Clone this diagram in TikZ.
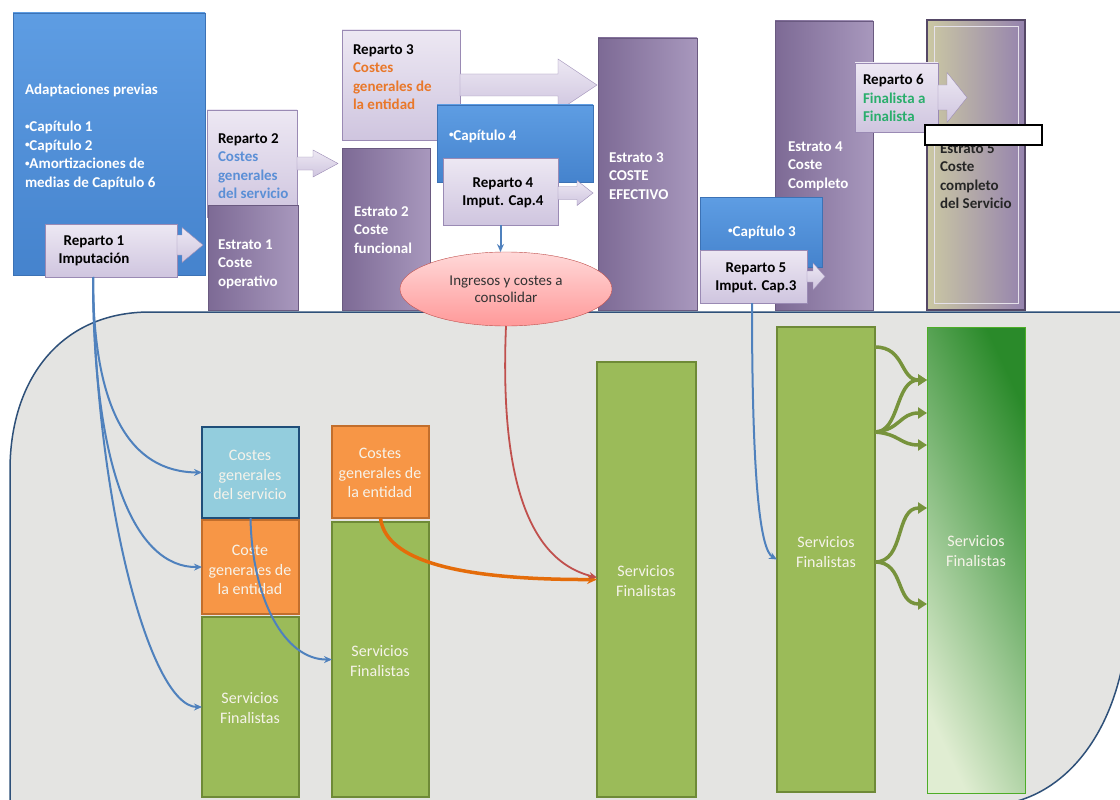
\documentclass[tikz,border=0pt]{standalone}
\usepackage{fontspec}
\setmainfont{Carlito}
\usetikzlibrary{arrows.meta,calc,positioning,shapes.geometric}

\definecolor{stratumL}{HTML}{7D6A95}
\definecolor{stratumR}{HTML}{A898BD}
\definecolor{stratumedge}{HTML}{6A5A80}
\definecolor{repT}{HTML}{EDE8F3}
\definecolor{repB}{HTML}{CFC5DF}
\definecolor{repedge}{HTML}{9A8AB4}
\definecolor{capT}{HTML}{5E9DE3}
\definecolor{capB}{HTML}{4583CD}
\definecolor{capedge}{HTML}{3C72B5}
\definecolor{servblue}{HTML}{5B8FD6}
\definecolor{entorange}{HTML}{E9782A}
\definecolor{finalgreen}{HTML}{2AAE6C}
\definecolor{panelgray}{HTML}{E4E4E2}
\definecolor{panelline}{HTML}{2E5079}
\definecolor{cablue}{HTML}{93CDDD}
\definecolor{caedge}{HTML}{1F4E79}
\definecolor{barorange}{HTML}{F79646}
\definecolor{orangeedge}{HTML}{C26E2C}
\definecolor{bargreen}{HTML}{9BBB59}
\definecolor{greenedge}{HTML}{6E8A37}
\definecolor{boxtext}{HTML}{F6F3EA}
\definecolor{linkblue}{HTML}{4F81BD}
\definecolor{linkorange}{HTML}{E46C0A}
\definecolor{linkred}{HTML}{C0504D}
\definecolor{fangreen}{HTML}{77933C}
\definecolor{olivegrey}{HTML}{CBC8A3}
\definecolor{palelilac}{HTML}{CDC3DB}
\definecolor{deeplilac}{HTML}{9583AE}
\definecolor{darkgreen}{HTML}{2A8A2A}
\definecolor{palegreen}{HTML}{E0EDD2}

% block arrow: start, length, shaft half, head half, head length
\newcommand{\blockarrow}[5]{%
  \draw[arrowbox] ($(#1)+(0,#3)$) -- ++(#2-#5,0) -- ++(0,#4-#3)
    -- ($(#1)+(#2,0)$) -- ($(#1)+(#2-#5,-#4)$) -- ++(0,#4-#3)
    -- ($(#1)+(0,-#3)$) -- cycle;}
\newcommand{\dotitem}{\raisebox{2.5pt}{\fontsize{9}{9}\selectfont•}}

\begin{document}
\begin{tikzpicture}[
    x=1pt, y=-1pt,
    every node/.style={inner sep=0pt, outer sep=0pt},
    txt/.style={font=\bfseries\fontsize{15}{18.5}\selectfont, align=left},
    btxt/.style={font=\fontsize{16}{19.5}\selectfont, align=center, text=boxtext},
    stratum/.style={anchor=north west, draw=stratumedge, left color=stratumL, right color=stratumR},
    reparto/.style={anchor=north west, draw=repedge, top color=repT, bottom color=repB},
    arrowbox/.style={draw=repedge, top color=repT, bottom color=repB},
    capitulo/.style={anchor=north west, draw=capedge, top color=capT, bottom color=capB},
    bluebox/.style={anchor=north west, draw=caedge, fill=cablue, line width=1.5pt},
    orangebox/.style={anchor=north west, draw=orangeedge, fill=barorange, line width=1.2pt},
    greenbox/.style={anchor=north west, draw=greenedge, fill=bargreen, line width=1.2pt},
    link/.style={draw=linkblue, line width=2pt, -{Stealth[length=8pt,width=7pt]}},
    fan/.style={draw=fangreen, line width=3.5pt, -{Triangle[length=9pt,width=11pt]}}
]
\useasboundingbox (0,0) rectangle (1120,800);
\fill[white] (0,0) rectangle (1120,800);

% Panel
\filldraw[fill=panelgray, draw=panelline, line width=1.5pt]
  (1125,312) -- (150,312) .. controls (60,312) and (10,380) .. (10,470)
  -- (10,805) -- (995,805) .. controls (1060,800) and (1112,740) .. (1125,650) -- cycle;

% Top tier
\node[capitulo, minimum width=192, minimum height=262] (adapt) at (13,13) {};
\node[txt, text=white, anchor=west] (adaptt) at (25,137) {Adaptaciones previas\\[18.5pt]\dotitem Capítulo 1\\\dotitem Capítulo 2\\\dotitem Amortizaciones de\\medias de Capítulo 6};

\node[reparto, minimum width=132, minimum height=53] (r1) at (45,224) {};
\node[txt, align=center] (r1t) at (94,251) {Reparto 1\\Imputación};
\coordinate (a1) at ([yshift=5.5pt]r1.east);
\blockarrow{a1}{26}{10}{17.5}{21}

\node[reparto, minimum width=90, minimum height=107] (r2) at (207,110) {};
\node[txt, anchor=west] (r2t) at (218,166) {Reparto 2\\\textcolor{servblue}{Costes}\\\textcolor{servblue}{generales}\\\textcolor{servblue}{del servicio}};
\blockarrow{r2.east}{41}{6.5}{13.5}{25}

\node[stratum, minimum width=90, minimum height=105] (e1) at (208,205) {};
\node[txt, text=white, anchor=west] (e1t) at (218,264) {Estrato 1\\Coste\\operativo};

\node[reparto, minimum width=118, minimum height=110] (r3) at (342,30) {};
\node[txt, anchor=west] (r3t) at (353,77) {Reparto 3\\\textcolor{entorange}{Costes}\\\textcolor{entorange}{generales de}\\\textcolor{entorange}{la entidad}};
\blockarrow{r3.east}{137}{11}{26}{39}

\node[stratum, minimum width=88, minimum height=162] (e2) at (342,148) {};
\node[txt, text=white, anchor=west] (e2t) at (354,230) {Estrato 2\\Coste\\funcional};

\node[capitulo, minimum width=156, minimum height=77] (cap4) at (437,105) {};
\node[txt, text=white, anchor=west] (cap4t) at (449,136) {\dotitem Capítulo 4};

\node[reparto, minimum width=115, minimum height=67] (r4) at (443,158) {};
\node[txt, align=center] (r4t) at (503,193) {Reparto 4\\Imput. Cap.4};
\coordinate (a4) at ([yshift=-1.5pt]r4.east);
\blockarrow{a4}{35}{6.5}{12.5}{16}

\node[stratum, minimum width=99, minimum height=272] (e3) at (598,38) {};
\node[txt, text=white, anchor=west] (e3t) at (609,176) {Estrato 3\\COSTE\\EFECTIVO};

\node[stratum, minimum width=98, minimum height=289] (e4) at (775,21) {};
\node[txt, text=white, anchor=west] (e4t) at (788,166) {Estrato 4\\Coste\\Completo};

\node[capitulo, minimum width=122, minimum height=70] (cap3) at (700,197) {};
\node[txt, text=white] (cap3t) at (762,232) {\dotitem Capítulo 3};

\node[reparto, minimum width=107, minimum height=53] (r5) at (700,250) {};
\node[txt, align=center] (r5t) at (756,278) {Reparto 5\\Imput. Cap.3};
\blockarrow{r5.east}{18}{5.5}{13.5}{12}

\node[anchor=north west, draw=stratumedge!80!black, line width=1.5pt, left color=olivegrey, middle color=palelilac, right color=deeplilac,
      minimum width=98, minimum height=290] (e5) at (927,20) {};
\draw[white!80!stratumL, line width=1pt] ([shift={(7pt,-7pt)}]e5.north west) rectangle ([shift={(-7pt,7pt)}]e5.south east);
\node[txt, text=black!85, anchor=west] (e5t) at (940,176) {Estrato 5\\Coste\\completo\\del Servicio};

\node[reparto, minimum width=83, minimum height=69] (r6) at (855,63) {};
\node[txt, anchor=west] (r6t) at (863,98) {Reparto 6\\\textcolor{finalgreen}{Finalista a}\\\textcolor{finalgreen}{Finalista}};
\blockarrow{r6.east}{29}{12.5}{25}{20}

\node[anchor=north west, draw=black, fill=white, line width=1.5pt, minimum width=117, minimum height=20] (blank) at (925,125) {};

\node[ellipse, draw=linkred, top color=red!15!white, bottom color=red!40!white, minimum width=212, minimum height=74,
      font=\fontsize{15}{17}\selectfont, align=center, text=black!80] (ell) at (506,289) {Ingresos y costes a\\consolidar};
\draw[link] (r4.south) -- (r4.south |- ell.north);

% Bottom tier
\node[bluebox, minimum width=97, minimum height=91] (ca) at (202,427) {};
\node[orangebox, minimum width=97, minimum height=94] (cb) at (202,520) {};
\node[greenbox, minimum width=97, minimum height=180] (cc) at (202,617) {};
\node[orangebox, minimum width=97, minimum height=92] (cd) at (332,426) {};
\node[greenbox, minimum width=97, minimum height=275] (ce) at (332,522) {};
\node[greenbox, minimum width=99, minimum height=435] (cf) at (597,362) {};
\node[greenbox, minimum width=98, minimum height=465] (cg) at (777,327) {};
\node[anchor=north west, draw=greenedge!70!green, line width=1pt, shading=axis, top color=darkgreen, middle color=bargreen!80!white, bottom color=palegreen,
      shading angle=-65, minimum width=98, minimum height=466] (ch) at (927,327) {};

\node[btxt] (cat) at (250,475) {Costes\\generales\\del servicio};
\node[btxt] (cbt) at (250,570) {Coste\\generales de\\la entidad};
\node[btxt] (cct) at (250,708) {Servicios\\Finalistas};
\node[btxt] (cdt) at (380,473) {Costes\\generales de\\la entidad};
\node[btxt] (cet) at (380,661) {Servicios\\Finalistas};
\node[btxt] (cft) at (646,581) {Servicios\\Finalistas};
\node[btxt] (cgt) at (826,552) {Servicios\\Finalistas};
\node[btxt] (cht) at (976,551) {Servicios\\Finalistas};

% Connectors
\coordinate (fork1) at ([xshift=-18pt]r1.south);
\draw[link] (fork1) .. controls (93,410) and (130,472) .. (ca.west);
\draw[link] (fork1) .. controls (93,470) and (135,568) .. (cb.west);
\draw[link] (fork1) .. controls (95,500) and (150,707) .. (cc.west);
\draw[link] (ca.south) .. controls (252,600) and (285,660) .. (ce.west);
\draw[linkorange, line width=3.5pt, -{Stealth[length=10pt,width=9pt]}] (cd.south) .. controls (385,555) and (440,580) .. (cf.west);
\draw[linkred, line width=1.8pt, -{Stealth[length=8pt,width=7pt]}] (ell.south) .. controls (500,470) and (525,560) .. ([yshift=2pt]cf.west);
\draw[link] ([xshift=-1.5pt]r5.south) .. controls (752,480) and (760,550) .. (cg.west);

% Finalista a finalista
\coordinate (g1) at (cg.east |- 0,347);
\coordinate (g2) at (cg.east |- 0,432);
\coordinate (g3) at (cg.east |- 0,562);
\coordinate (h1) at (ch.west |- 0,380);
\coordinate (h2) at (ch.west |- 0,413);
\coordinate (h3) at (ch.west |- 0,445);
\coordinate (h4) at (ch.west |- 0,508);
\coordinate (h5) at (ch.west |- 0,604);
\draw[fan] (g1) .. controls (905,347) and (900,380) .. (h1);
\draw[fan] (g2) .. controls (900,432) and (895,380) .. (h1);
\draw[fan] (g2) .. controls (900,430) and (900,413) .. (h2);
\draw[fan] (g2) .. controls (900,434) and (900,445) .. (h3);
\draw[fan] (g3) .. controls (905,562) and (895,508) .. (h4);
\draw[fan] (g3) .. controls (905,562) and (895,604) .. (h5);
\end{tikzpicture}
\end{document}
